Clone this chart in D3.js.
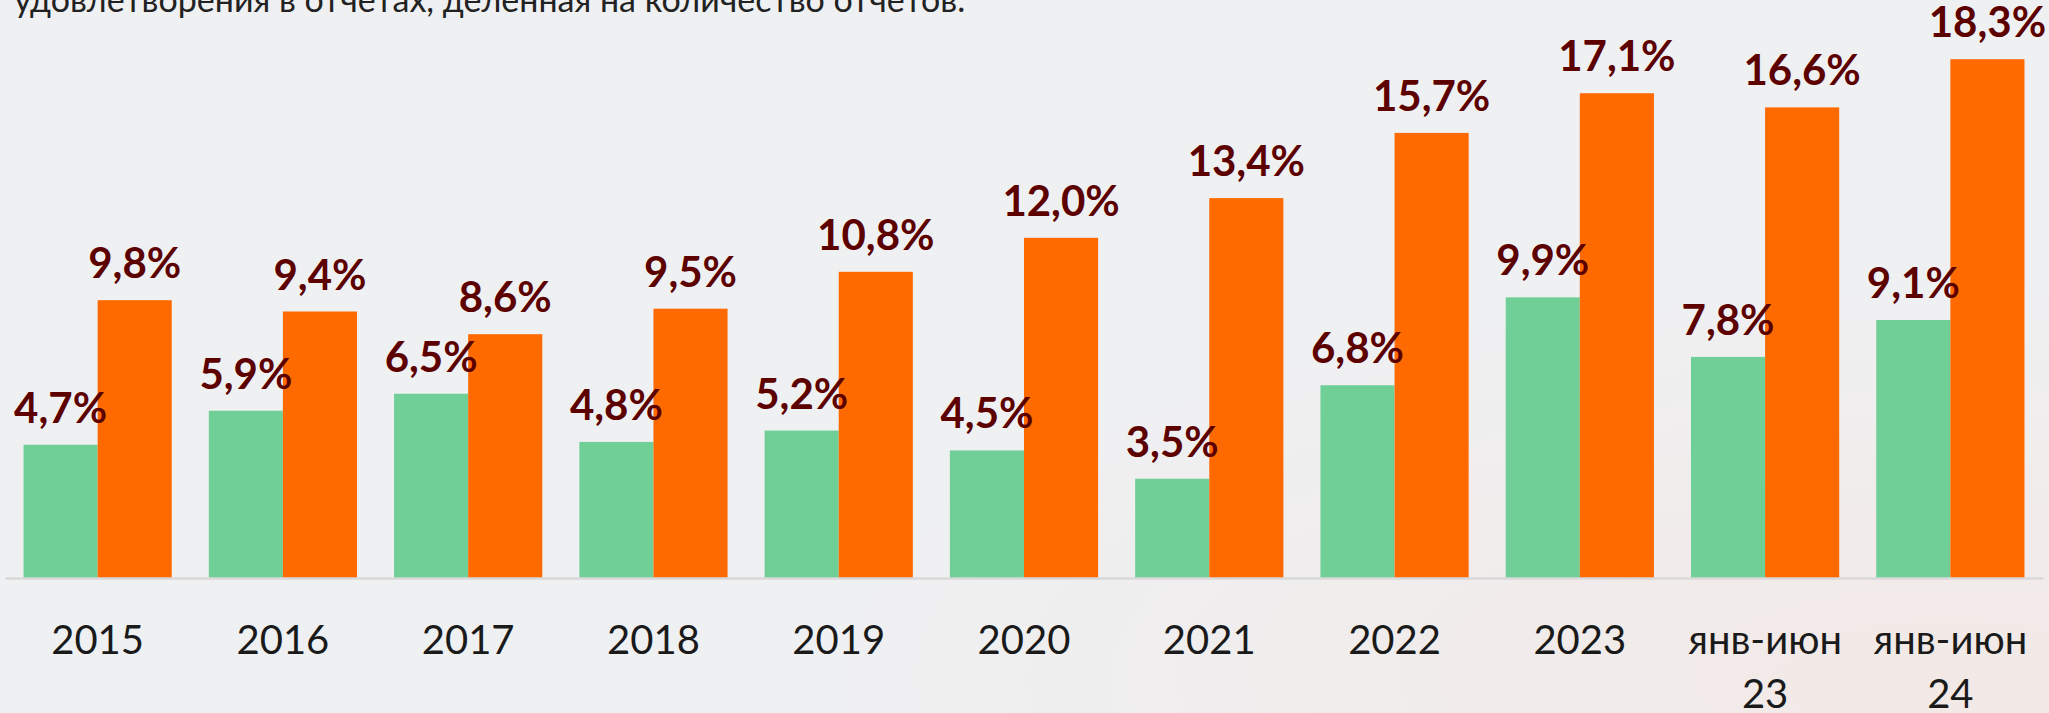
<!DOCTYPE html>
<html>
<head>
<meta charset="utf-8">
<script src="https://cdn.jsdelivr.net/npm/d3@7"></script>
<style>
  html, body { margin: 0; padding: 0; background: #eff0f2; overflow: hidden; }
  svg { display: block; }
</style>
</head>
<body>
<svg id="chart" width="2049" height="713"></svg>
<script>
const categories = ["2015", "2016", "2017", "2018", "2019", "2020", "2021", "2022", "2023", "янв-июн 23", "янв-июн 24"];
const categoryLines = [["2015"], ["2016"], ["2017"], ["2018"], ["2019"], ["2020"], ["2021"], ["2022"], ["2023"], ["янв-июн", "23"], ["янв-июн", "24"]];
const greenValues = [4.7, 5.9, 6.5, 4.8, 5.2, 4.5, 3.5, 6.8, 9.9, 7.8, 9.1];
const orangeValues = [9.8, 9.4, 8.6, 9.5, 10.8, 12.0, 13.4, 15.7, 17.1, 16.6, 18.3];
const seriesKeys = ["green", "orange"];
const titleText = "удовлетворения в отчетах, деленная на количество отчетов.";

const W = 2049, H = 713;
const svg = d3.select("#chart");

// background with subtle warm tint bottom-right
const defs = svg.append("defs");
const rg = defs.append("radialGradient").attr("id", "warm")
  .attr("cx", "0.95").attr("cy", "0.95").attr("r", "0.55");
rg.append("stop").attr("offset", "0").attr("stop-color", "#f2e9e6");
rg.append("stop").attr("offset", "1").attr("stop-color", "#eff0f2");
svg.append("rect").attr("width", W).attr("height", H).attr("fill", "#eff0f2");
svg.append("rect").attr("width", W).attr("height", H).attr("fill", "url(#warm)");

svg.append("text")
  .attr("x", 14).attr("y", 12)
  .attr("font-family", "Lato, 'Open Sans', sans-serif")
  .attr("font-size", 34)
  .attr("fill", "#222")
  .text(titleText);

const baseY = 578;
const x = d3.scaleBand().domain(categories).range([5, 2043]).paddingInner(0.2).paddingOuter(0.1);
const x1 = d3.scaleBand().domain(seriesKeys).range([0, x.bandwidth()]);
const y = d3.scaleLinear().domain([0, 20]).range([baseY, 11]);
const colors = { green: "#70cf97", orange: "#ff6a00" };

const rows = categories.map((c, i) => ({ cat: c, lines: categoryLines[i], green: greenValues[i], orange: orangeValues[i] }));

const groups = svg.append("g").selectAll("g").data(rows).join("g")
  .attr("transform", d => `translate(${x(d.cat)},0)`);

groups.selectAll("rect").data(d => seriesKeys.map(k => ({ key: k, value: d[k] }))).join("rect")
  .attr("x", d => x1(d.key))
  .attr("y", d => y(d.value))
  .attr("width", x1.bandwidth())
  .attr("height", d => y(0) - y(d.value))
  .attr("fill", d => colors[d.key]);

const fmt = v => d3.format(".1f")(v).replace(".", ",") + "%";
groups.selectAll("text.val").data(d => seriesKeys.map(k => ({ key: k, value: d[k] }))).join("text")
  .attr("class", "val")
  .attr("x", d => x1(d.key) + x1.bandwidth() / 2)
  .attr("y", d => y(d.value) - 22)
  .attr("text-anchor", "middle")
  .attr("font-family", "Lato, sans-serif")
  .attr("font-weight", 700)
  .attr("font-size", 42)
  .attr("fill", "#5c0000")
  .text(d => fmt(d.value));

// axis
const axis = svg.append("g").attr("transform", `translate(0,${baseY})`)
  .call(d3.axisBottom(x).tickSize(0).tickFormat(""));
axis.select(".domain").attr("stroke", "#d9d9d9").attr("stroke-width", 2.5);

const labels = svg.append("g").selectAll("text").data(rows).join("text")
  .attr("x", d => x(d.cat) + x.bandwidth() / 2)
  .attr("y", 654)
  .attr("text-anchor", "middle")
  .attr("font-family", "Lato, sans-serif")
  .attr("font-size", 40)
  .attr("fill", "#1a1a1a");
labels.selectAll("tspan").data(d => d.lines).join("tspan")
  .attr("x", function() { return d3.select(this.parentNode).attr("x"); })
  .attr("dy", (d, i) => i === 0 ? 0 : 54)
  .text(d => d);
</script>
</body>
</html>
